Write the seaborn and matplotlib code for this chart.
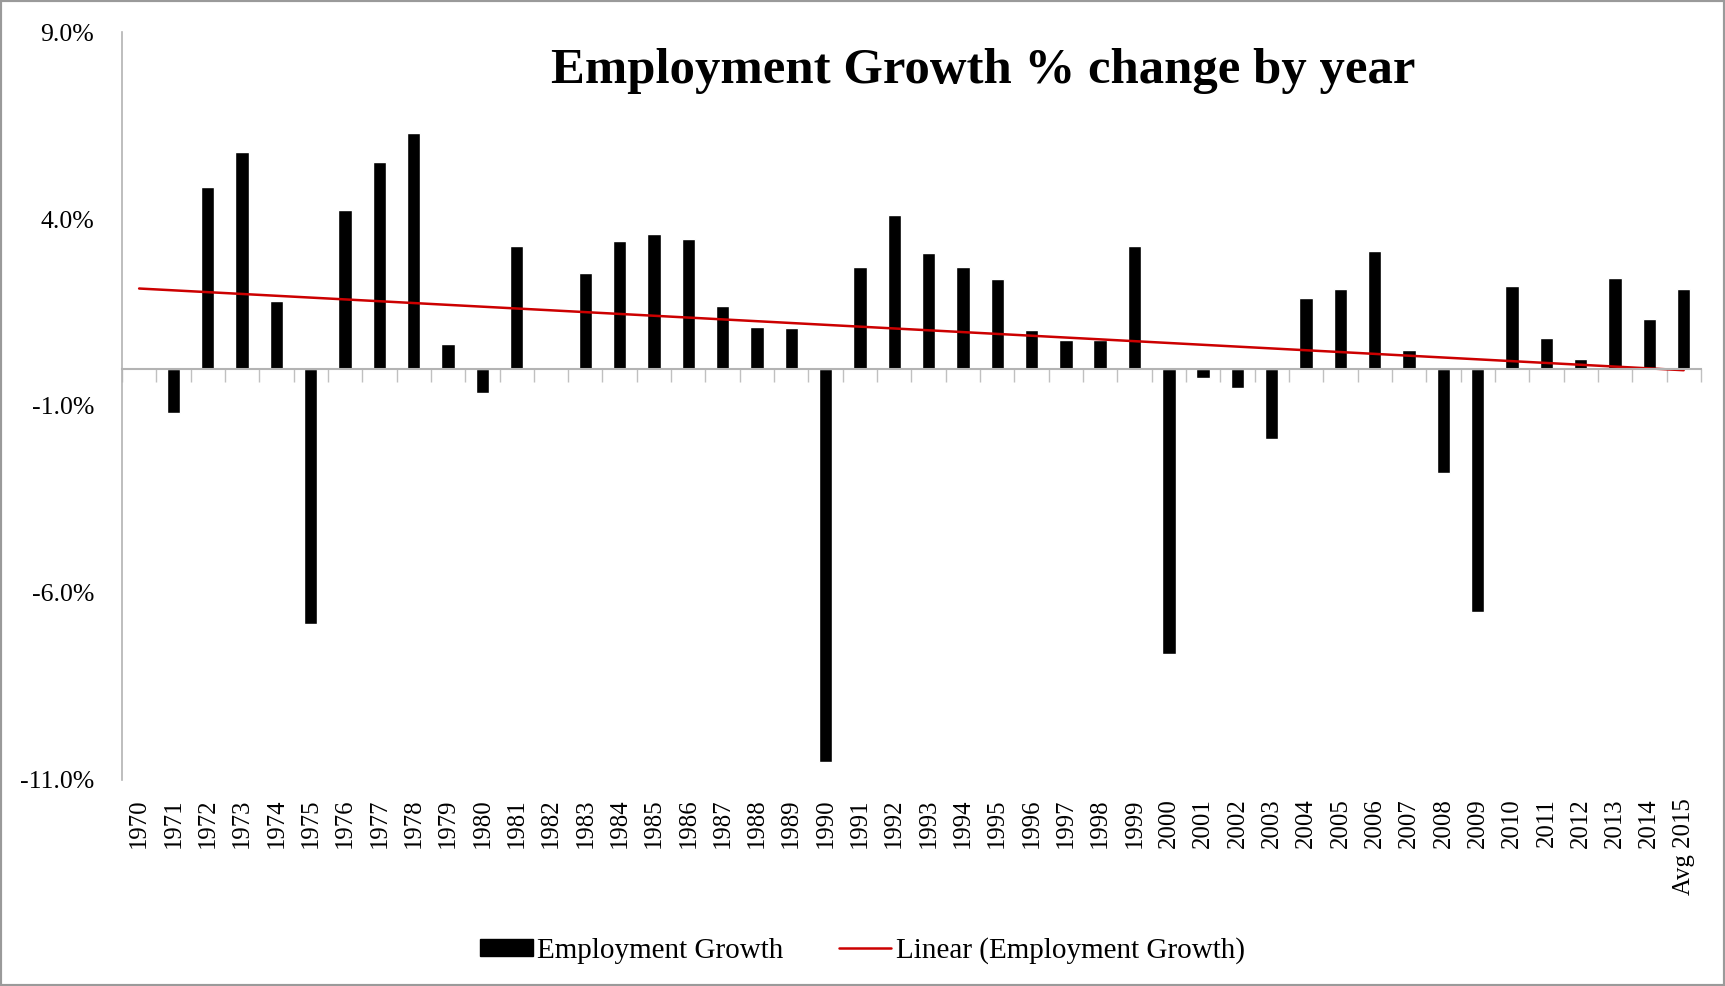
import numpy as np
import pandas as pd
import matplotlib
matplotlib.use("Agg")
import matplotlib.pyplot as plt
import seaborn as sns
from matplotlib.patches import Patch, Rectangle
from matplotlib.lines import Line2D

years = [str(y) for y in range(1970, 2015)] + ["Avg 2015"]
growth = [0.00, -1.20, 4.85, 5.79, 1.82, -6.82, 4.23, 5.53, 6.30, 0.66,
          -0.66, 3.28, 0.00, 2.55, 3.41, 3.60, 3.47, 1.67, 1.10, 1.08,
          -10.53, 2.71, 4.10, 3.09, 2.72, 2.39, 1.03, 0.76, 0.77, 3.28,
          -7.62, -0.26, -0.53, -1.88, 1.90, 2.13, 3.14, 0.50, -2.79, -6.50,
          2.22, 0.82, 0.26, 2.42, 1.32, 2.14]
y_ticks = [-11, -6, -1, 4, 9]
title = "Employment Growth % change by year"

sns.set_theme(style="white")
plt.rcParams["font.family"] = ["Liberation Serif", "DejaVu Serif"]
plt.rcParams["text.color"] = "black"
plt.rcParams["xtick.color"] = "black"
plt.rcParams["ytick.color"] = "black"
plt.rcParams["axes.labelcolor"] = "black"

df = pd.DataFrame({"year": years, "growth": growth})

fig = plt.figure(figsize=(17.25, 9.86), dpi=100)
ax = fig.add_axes([0.0707, 0.209, 0.9153, 0.7585])

sns.barplot(data=df, x="year", y="growth", order=years, color="black",
            width=0.39, saturation=1, ax=ax)

idx = np.arange(len(years))
coef = np.polyfit(idx, np.array(growth), 1)
trend = np.polyval(coef, idx)
sns.lineplot(x=idx, y=trend, color="#cc0000", linewidth=1.8, ax=ax)

ax.set_xlim(-0.5, len(years) - 0.5)
ax.set_ylim(-11, 9)
ax.set_yticks(y_ticks)
ax.set_yticklabels([f"{t:.1f}%" for t in y_ticks], fontsize=18.5, color="black")
ax.tick_params(axis="y", length=0, pad=20)
ax.set_xlabel("")
ax.set_ylabel("")

for s in ["top", "right"]:
    ax.spines[s].set_visible(False)
ax.spines["left"].set_color("#b3b3b3")
ax.spines["left"].set_linewidth(1.2)
ax.spines["bottom"].set_position(("data", 0))
ax.spines["bottom"].set_color("#b3b3b3")
ax.spines["bottom"].set_linewidth(1.5)

ax.set_xticks(idx)
ax.set_xticklabels([])
ax.tick_params(axis="x", which="major", length=0)
ax.set_xticks(np.arange(-0.5, len(years), 1.0), minor=True)
ax.tick_params(axis="x", which="minor", length=9, width=1, color="#c0c0c0",
               direction="out", bottom=True)

for i, lab in enumerate(years):
    ax.text(i, -0.025, lab, transform=ax.get_xaxis_transform(), rotation=90,
            ha="center", va="top", fontsize=17.8, color="black")

fig.text(0.570, 0.928, title, ha="center", va="center", fontsize=36.5,
         fontweight="bold", color="black")

handles = [Patch(facecolor="black", edgecolor="black", label="Employment Growth"),
           Line2D([0], [0], color="#cc0000", linewidth=1.8,
                  label="Linear (Employment Growth)")]
leg = fig.legend(handles=handles, loc="center", bbox_to_anchor=(0.5, 0.036), ncol=2,
                 frameon=False, fontsize=21, handlelength=1.8, handleheight=0.5,
                 handletextpad=0.15, columnspacing=1.9)
for t in leg.get_texts():
    t.set_color("black")

fig.add_artist(Rectangle((0, 0), 1, 1, transform=fig.transFigure, fill=False,
                         edgecolor="#9a9a9a", linewidth=3))

fig.savefig("out.png", dpi=100)
